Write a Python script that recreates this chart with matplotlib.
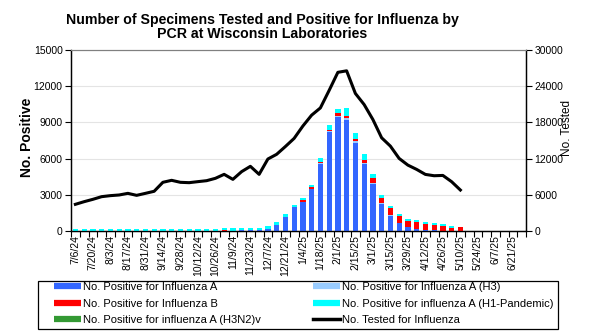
import numpy as np
import matplotlib
matplotlib.use("Agg")
import matplotlib.pyplot as plt
from matplotlib.lines import Line2D
from matplotlib.patches import Rectangle
import datetime as dt

plt.rcParams['font.family'] = ['Liberation Sans', 'DejaVu Sans']

# weekly data, week ending 7/6/24 .. 6/28/25 (52 weeks)
weeks = [dt.date(2024, 7, 6) + dt.timedelta(days=7 * i) for i in range(52)]
week_labels = [f"{d.month}/{d.day}/{d.year % 100}" for d in weeks]

flu_a = [0] * 18 + [30, 80, 80, 80, 165, 500, 1170, 1970, 2410, 3500, 5570,
                     8220, 9470, 9200, 7280, 5550, 3920, 2220, 1250, 635, 360,
                     166, 100, 80, 25, 10, 5] + [0] * 7
flu_a_h3 = [0] * 26 + [20, 20, 30, 50, 80, 190, 140, 80, 80, 80, 55, 20] + [0] * 14
flu_b = [0] * 17 + [80, 0, 0, 0, 0, 0, 0, 0, 0, 100, 110, 130, 60, 190, 170,
                    190, 250, 360, 470, 580, 580, 480, 580, 480, 420, 390, 240,
                    330] + [0] * 7
flu_h1 = [170, 180, 170, 180, 180, 170, 180, 180, 170, 180, 190, 180, 180, 170,
          180, 190, 190, 170, 190, 140, 140, 140, 220, 220, 220, 220, 190, 190,
          330, 440, 360, 635, 500, 470, 360, 250, 170, 166, 166, 166, 166, 166,
          166, 166, 0] + [0] * 7
flu_h3n2v = [0] * 52
tested = [4420, 4860, 5250, 5690, 5860, 5970, 6240, 5910, 6240, 6580, 8070,
          8400, 8070, 8010, 8180, 8340, 8730, 9390, 8560, 9840, 10720, 9390,
          11930, 12710, 14000, 15350, 17400, 19200, 20400, 23300, 26300, 26550,
          22800, 20960, 18480, 15450, 14070, 12030, 10920, 10210, 9380, 9160,
          9210, 8170, 6790]

series = [
    ("No. Positive for Influenza A", flu_a, "#3366FF"),
    ("No. Positive for Influenza A (H3)", flu_a_h3, "#99CCFF"),
    ("No. Positive for Influenza B", flu_b, "#FF0000"),
    ("No. Positive for influenza A (H1-Pandemic)", flu_h1, "#00FFFF"),
    ("No. Positive for influenza A (H3N2)v", flu_h3n2v, "#339933"),
]

W, H = 590, 333
fig = plt.figure(figsize=(W / 100, H / 100), dpi=100)
ax = fig.add_axes([71 / W, 1 - 231 / H, 455 / W, 181 / H])
ax2 = ax.twinx()

x = np.arange(len(weeks))
bottom = np.zeros(len(weeks))
for name, vals, col in series:
    vals = np.array(vals, dtype=float)
    ax.bar(x, vals, width=0.6, bottom=bottom, color=col, zorder=3)
    bottom += vals

ax2.plot(np.arange(len(tested)), tested, color="black", lw=2.2, zorder=4)

ax.set_xlim(-0.5, len(weeks) - 0.5)
ax.set_ylim(0, 15000)
ax2.set_ylim(0, 30000)
ax.set_yticks(np.arange(0, 15001, 3000))
ax2.set_yticks(np.arange(0, 30001, 6000))
ax.grid(axis="y", color="#E4E4E4", lw=0.8, zorder=0)
ax.set_axisbelow(True)

ax.set_xticks(x[::2])
ax.set_xticklabels(week_labels[::2], rotation=90, fontsize=7.5)
ax.tick_params(axis="x", length=0, pad=3)
ax.set_xticks(np.arange(-0.5, len(weeks), 1), minor=True)
ax.tick_params(axis="x", which="minor", length=4, width=0.8, direction="out")
ax.tick_params(axis="y", labelsize=7.5, length=4, width=0.8, pad=2)
ax2.tick_params(axis="y", labelsize=7.5, length=4, width=0.8, pad=2)

for a in (ax, ax2):
    a.spines["top"].set_color("#808080")
    for s in ("left", "right", "bottom"):
        a.spines[s].set_linewidth(0.9)

fig.text(27 / W, 1 - 137 / H, "No. Positive", rotation=90, fontsize=10,
         fontweight="bold", ha="center", va="center")
fig.text(567 / W, 1 - 128 / H, "No. Tested", rotation=90, fontsize=8.5,
         ha="center", va="center")
fig.text(262 / W, 1 - 27 / H,
         "Number of Specimens Tested and Positive for Influenza by\nPCR at Wisconsin Laboratories",
         fontsize=10.2, fontweight="bold", ha="center", va="center", linespacing=1.05)

handles = [Line2D([], [], color=c, lw=4.5, solid_capstyle="butt") for _, _, c in series]
labels = [n for n, _, _ in series]
handles.append(Line2D([], [], color="black", lw=2.5))
labels.append("No. Tested for Influenza")
# order to fill columns like the original
order = [0, 2, 4, 1, 3, 5]
leg = fig.legend([handles[i] for i in order], [labels[i] for i in order],
                 loc="upper left", bbox_to_anchor=(54 / W, 1 - 283 / H, 500 / W, 1 / H),
                 mode="expand", ncol=2, fontsize=8, frameon=False,
                 borderaxespad=0, borderpad=0, handlelength=2.45, handletextpad=0.2,
                 labelspacing=0.6)
fig.patches.append(Rectangle((38 / W, 1 - 329 / H), 520 / W, 48 / H,
                             transform=fig.transFigure, fill=False,
                             edgecolor="black", lw=0.9))

fig.savefig("out.png", dpi=100)
